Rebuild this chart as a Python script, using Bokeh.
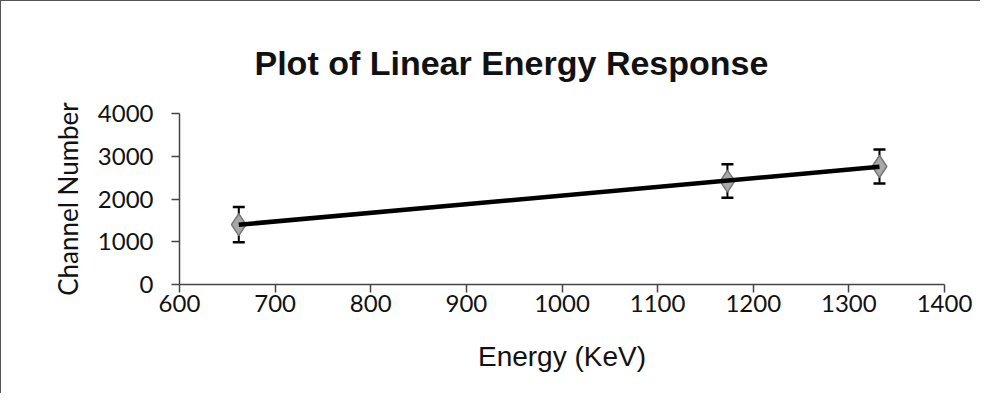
import numpy as np
from bokeh.plotting import figure
from bokeh.models import ColumnDataSource, Whisker, TeeHead, Range1d, FixedTicker
from bokeh.embed import file_html
from bokeh.resources import INLINE

# Data
energy_kev = [662, 1173, 1332]
channel = [1400, 2420, 2760]
channel_err = [410, 390, 400]
x_ticks = [600, 700, 800, 900, 1000, 1100, 1200, 1300, 1400]
y_ticks = [0, 1000, 2000, 3000, 4000]

src = ColumnDataSource(dict(
    x=energy_kev, y=channel,
    lower=[c - e for c, e in zip(channel, channel_err)],
    upper=[c + e for c, e in zip(channel, channel_err)],
))

p = figure(width=980, height=393, output_backend="svg", toolbar_location=None,
           x_range=Range1d(600, 1400), y_range=Range1d(0, 4000),
           min_border_left=178, min_border_right=37, min_border_top=112, min_border_bottom=110)
p.styles = {"border-left": "1px solid #555", "border-top": "1px solid #555"}

p.title.text = "Plot of Linear Energy Response"
p.title.text_font = "Liberation Sans"
p.title.text_font_style = "bold"
p.title.text_font_size = "34px"
p.title.text_color = "#111111"
p.title.align = "left"
p.title.offset = 75
p.title.standoff = 63

p.xgrid.visible = False
p.ygrid.visible = False
p.outline_line_color = None
p.background_fill_color = "white"
p.border_fill_color = "white"

for ax in (p.xaxis[0], p.yaxis[0]):
    ax.axis_line_color = "#444444"
    ax.axis_line_width = 1.5
    ax.major_tick_line_color = "#444444"
    ax.major_tick_line_width = 1.5
    ax.major_tick_out = 8
    ax.major_tick_in = 0
    ax.minor_tick_line_color = None
    ax.major_label_text_font = "Lato"
    ax.major_label_text_font_size = "24px"
    ax.major_label_text_color = "#111111"

p.xaxis.ticker = FixedTicker(ticks=x_ticks)
p.yaxis.ticker = FixedTicker(ticks=y_ticks)
p.xaxis.major_label_standoff = 2
p.yaxis.major_label_standoff = 18

p.xaxis.axis_label = "Energy (KeV)"
p.xaxis.axis_label_text_font = "Liberation Sans"
p.xaxis.axis_label_text_font_style = "normal"
p.xaxis.axis_label_text_font_size = "28px"
p.xaxis.axis_label_text_color = "#111111"
p.xaxis.axis_label_standoff = 26

p.yaxis.axis_label = "Channel Number"
p.yaxis.axis_label_text_font = "Lato"
p.yaxis.axis_label_text_font_style = "normal"
p.yaxis.axis_label_text_font_size = "26px"
p.yaxis.axis_label_text_color = "#111111"
p.yaxis.axis_label_standoff = 11

# markers
p.scatter("x", "y", source=src, marker="diamond", size=22,
          fill_color="#a8a8a8", line_color="#777777", line_width=1.5)

# error bars
w = Whisker(source=src, base="x", upper="upper", lower="lower",
            line_color="black", line_width=2,
            upper_head=TeeHead(size=12, line_color="black", line_width=2.5),
            lower_head=TeeHead(size=12, line_color="black", line_width=2.5))
p.add_layout(w)

# linear trendline (least squares fit of the data)
slope, intercept = np.polyfit(energy_kev, channel, 1)
xs = [min(energy_kev), max(energy_kev)]
ys = [slope * x + intercept for x in xs]
p.line(xs, ys, line_color="black", line_width=4.5)

open("out.html", "w").write(file_html(p, INLINE))
